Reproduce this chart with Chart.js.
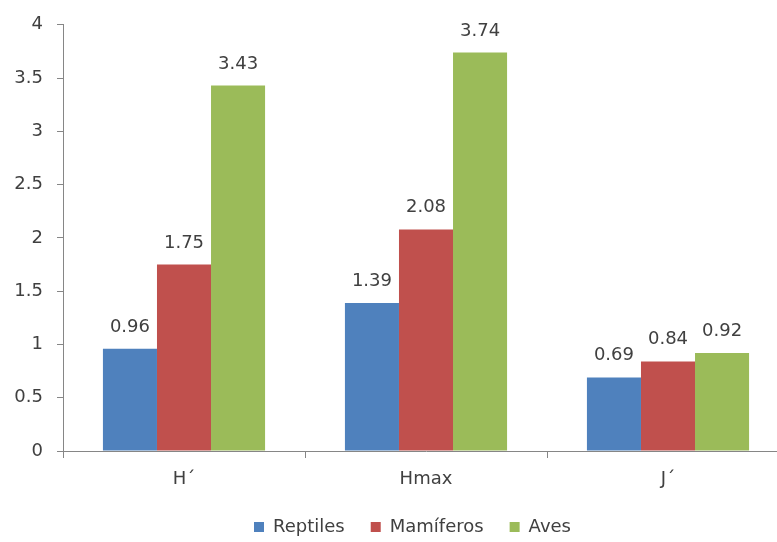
<!DOCTYPE html>
<html>
<head>
<meta charset="utf-8">
<script src="https://cdn.jsdelivr.net/npm/chart.js@4"></script>
<style>
  html, body { margin: 0; padding: 0; background: #fff; overflow: hidden; }
  #wrap { position: relative; width: 789px; height: 546px; }
</style>
</head>
<body>
<div id="wrap"><canvas id="chart"></canvas></div>
<script>
/* ── Data ── */
const categories  = ['H\u00B4', 'Hmax', 'J\u00B4'];
const reptiles    = [0.96, 1.39, 0.69];
const mamiferos   = [1.75, 2.08, 0.84];
const aves        = [3.43, 3.74, 0.92];
const seriesNames = ['Reptiles', 'Mam\u00EDferos', 'Aves'];

/* ── Palette ── */
const C = { blue: '#4F81BD', red: '#C0504D', green: '#9BBB59', axis: '#868686', text: '#404040' };
const FONT = "'DejaVu Sans', sans-serif";

/* value labels above each bar */
const valueLabels = {
  id: 'valueLabels',
  afterDatasetsDraw(chart) {
    const { ctx } = chart;
    ctx.save();
    ctx.font = `18px ${FONT}`;
    ctx.fillStyle = C.text;
    ctx.textAlign = 'center';
    ctx.textBaseline = 'alphabetic';
    chart.data.datasets.forEach((ds, i) => {
      chart.getDatasetMeta(i).data.forEach((bar, j) => {
        ctx.fillText(ds.data[j].toFixed(2), bar.x, bar.y - 17);
      });
    });
    ctx.restore();
  },
};

/* nudge the legend a bit to the right of the canvas centre */
const legendShift = {
  id: 'legendShift',
  afterLayout(chart) {
    const lg = chart.legend;
    if (!lg) return;
    lg.left += 18;
    lg.right += 18;
    (lg.legendHitBoxes || []).forEach(h => { h.left += 18; });
  },
};

const bar = (label, data, color) => ({
  label, data, backgroundColor: color, borderWidth: 0,
  categoryPercentage: 0.67, barPercentage: 1,
});

new Chart(document.getElementById('chart'), {
  type: 'bar',
  data: {
    labels: categories,
    datasets: [
      bar(seriesNames[0], reptiles,  C.blue),
      bar(seriesNames[1], mamiferos, C.red),
      bar(seriesNames[2], aves,      C.green),
    ],
  },
  options: {
    responsive: true, maintainAspectRatio: false, animation: false,
    layout: { padding: { top: 19, left: 0, right: 0, bottom: 0 } },
    plugins: {
      tooltip: { enabled: false },
      legend: {
        position: 'bottom',
        labels: {
          boxWidth: 10, boxHeight: 10, padding: 26,
          color: C.text, font: { family: FONT, size: 18 },
        },
      },
    },
    scales: {
      y: {
        min: 0, max: 4,
        ticks: {
          stepSize: 0.5, color: C.text, padding: 14,
          font: { family: FONT, size: 18 },
          callback: v => String(v),
        },
        grid: { drawOnChartArea: false, tickLength: 6, color: C.axis },
        border: { color: C.axis },
        afterFit: s => { s.width = 63; },
      },
      x: {
        ticks: { color: C.text, padding: 11, font: { family: FONT, size: 18 } },
        grid: { drawOnChartArea: false, tickLength: 7, color: C.axis, offset: true },
        border: { color: C.axis },
        afterFit: s => { s.height = 41; },
      },
    },
  },
  plugins: [valueLabels, legendShift],
});
</script>
</body>
</html>
